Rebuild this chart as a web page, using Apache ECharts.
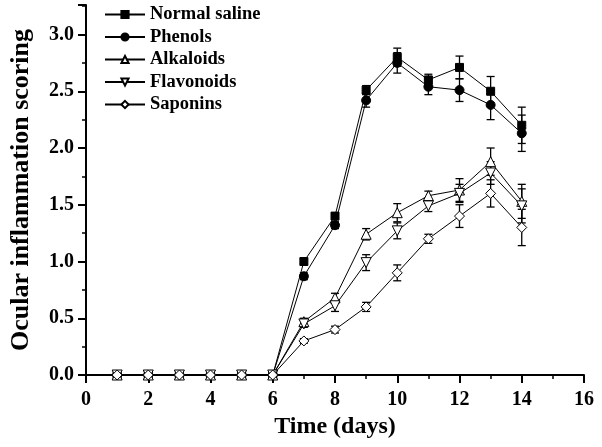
<!DOCTYPE html>
<html><head><meta charset="utf-8">
<script src="https://cdn.jsdelivr.net/npm/echarts@6/dist/echarts.min.js"></script>
<style>html,body{margin:0;padding:0;background:#fff}#c{width:602px;height:447px}</style>
</head><body><div id="c"></div>
<script>
const days = [1,2,3,4,5,6,7,8,9,10,11,12,13,14];
const seriesNames = ['Normal saline','Phenols','Alkaloids','Flavonoids','Saponins'];
const normalSaline    = [0,0,0,0,0,0,1.00,1.40,2.51,2.80,2.60,2.71,2.50,2.20];
const normalSalineErr = [0,0,0,0,0,0,0.02,0.03,0.04,0.08,0.05,0.10,0.13,0.16];
const phenols         = [0,0,0,0,0,0,0.87,1.32,2.42,2.75,2.54,2.51,2.38,2.13];
const phenolsErr      = [0,0,0,0,0,0,0.03,0.03,0.06,0.09,0.07,0.10,0.13,0.16];
const alkaloids       = [0,0,0,0,0,0,0.47,0.68,1.24,1.43,1.58,1.63,1.88,1.53];
const alkaloidsErr    = [0,0,0,0,0,0,0.03,0.04,0.05,0.08,0.04,0.10,0.12,0.15];
const flavonoids      = [0,0,0,0,0,0,0.45,0.61,0.99,1.27,1.49,1.60,1.78,1.49];
const flavonoidsErr   = [0,0,0,0,0,0,0.03,0.05,0.07,0.07,0.05,0.08,0.10,0.15];
const saponins        = [0,0,0,0,0,0,0.30,0.40,0.60,0.90,1.20,1.40,1.60,1.30];
const saponinsErr     = [0,0,0,0,0,0,0.02,0.03,0.04,0.07,0.04,0.10,0.12,0.16];
const xTicks = {min:0, max:16, interval:2};
const yTicks = {min:0, max:3.26, interval:0.5};

const values = [normalSaline, phenols, alkaloids, flavonoids, saponins];
const errors = [normalSalineErr, phenolsErr, alkaloidsErr, flavonoidsErr, saponinsErr];
const symbols = ['rect','circle','triangle','path://M0,0 L10,0 L5,9 Z','diamond'];
const sizes = [8,9,10,10,10];
const filled = [true,true,false,false,false];
const font = '"Liberation Serif","Times New Roman",serif';

const series = [];
values.forEach((vals, i) => {
  series.push({
    type:'custom', name: seriesNames[i] + ' err', z: 2, silent:true,
    data: days.map((d,k)=>[d, vals[k], errors[i][k]]),
    renderItem: (params, api) => {
      const x = api.value(0), y = api.value(1), e = api.value(2);
      if (!e) return;
      const top = api.coord([x, y + e]), bot = api.coord([x, y - e]);
      const hw = 4;
      const st = {stroke:'#000', lineWidth:1.3};
      return {type:'group', children:[
        {type:'line', shape:{x1:top[0],y1:top[1],x2:bot[0],y2:bot[1]}, style:st},
        {type:'line', shape:{x1:top[0]-hw,y1:top[1],x2:top[0]+hw,y2:top[1]}, style:st},
        {type:'line', shape:{x1:bot[0]-hw,y1:bot[1],x2:bot[0]+hw,y2:bot[1]}, style:st}
      ]};
    }
  });
});
values.forEach((vals, i) => {
  series.push({
    type:'line', name: seriesNames[i], z: 3 + i,
    data: days.map((d,k)=>[d, vals[k]]),
    symbol: symbols[i], symbolSize: sizes[i], showAllSymbol: true,
    lineStyle:{color:'#000', width:1},
    itemStyle:{color: filled[i] ? '#000' : '#fff', borderColor:'#000', borderWidth:1},
    emphasis:{disabled:true}, animation:false
  });
});

const chart = echarts.init(document.getElementById('c'), null, {renderer:'canvas'});
chart.setOption({
  animation:false,
  backgroundColor:'#fff',
  grid:{left:84, right:18, top:5, bottom:72},
  legend:{
    data: seriesNames, left:99, top:0, orient:'vertical', itemGap:3.5,
    itemWidth:40, itemHeight:9,
    textStyle:{fontFamily:font, fontWeight:'bold', fontSize:18.5, color:'#000'},
    selectedMode:false
  },
  xAxis:{
    type:'value', min:xTicks.min, max:xTicks.max, interval:xTicks.interval,
    name:'Time (days)', nameLocation:'middle', nameGap:40,
    nameTextStyle:{fontFamily:font, fontWeight:'bold', fontSize:24, color:'#000'},
    axisLine:{lineStyle:{color:'#000', width:2}},
    axisTick:{inside:false, length:8, lineStyle:{color:'#000', width:2}},
    minorTick:{show:true, splitNumber:2, length:4, lineStyle:{color:'#000', width:1.5}},
    splitLine:{show:false},
    axisLabel:{fontFamily:font, fontWeight:'bold', fontSize:20, color:'#000', margin:15}
  },
  yAxis:{
    type:'value', min:yTicks.min, max:yTicks.max, interval:yTicks.interval,
    name:'Ocular inflammation scoring', nameLocation:'middle', nameGap:52,
    nameTextStyle:{fontFamily:font, fontWeight:'bold', fontSize:26, color:'#000'},
    axisLine:{lineStyle:{color:'#000', width:2}},
    axisTick:{inside:false, length:8, lineStyle:{color:'#000', width:2}},
    minorTick:{show:true, splitNumber:2, length:4, lineStyle:{color:'#000', width:1.5}},
    splitLine:{show:false},
    axisLabel:{fontFamily:font, fontWeight:'bold', fontSize:20, color:'#000', margin:12,
      formatter: v => v.toFixed(1), showMaxLabel:false}
  },
  series: series
});
</script>
</body></html>
